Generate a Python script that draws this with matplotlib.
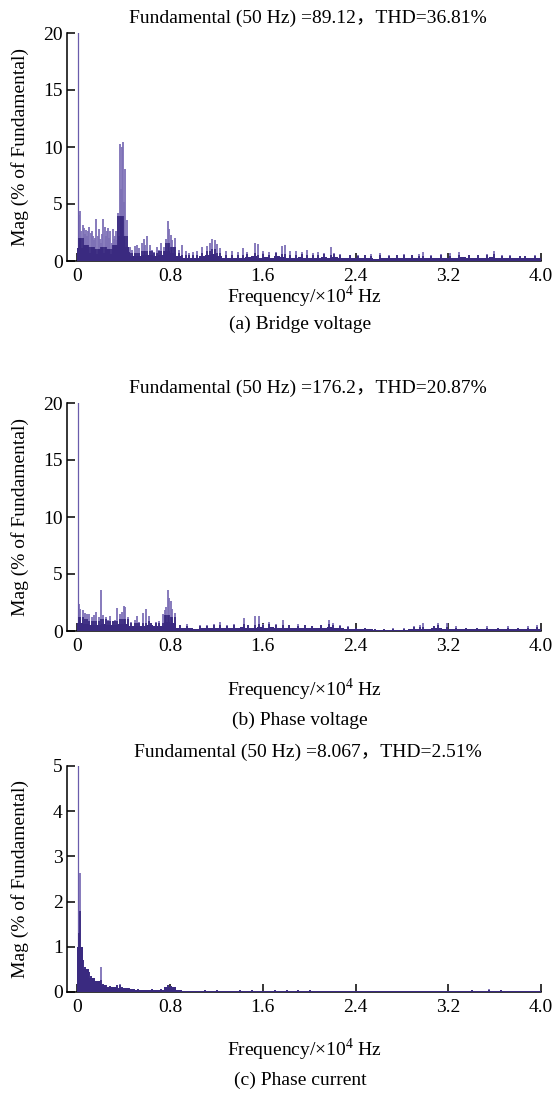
import numpy as np
import matplotlib.pyplot as plt

plt.rcParams['font.family'] = ['Liberation Serif', 'Noto Sans CJK SC', 'DejaVu Sans']
plt.rcParams['mathtext.fontset'] = 'custom'
plt.rcParams['mathtext.rm'] = 'Liberation Serif'

# harmonic spikes, frequency in x10^4 Hz, magnitude in % of fundamental
freq_a = [0.005, 0.015, 0.025, 0.035, 0.045, 0.055, 0.065, 0.075, 0.085, 0.095,
          0.105, 0.115, 0.125, 0.135, 0.145, 0.155, 0.165, 0.175, 0.185, 0.195,
          0.205, 0.215, 0.225, 0.235, 0.245, 0.255, 0.265, 0.275, 0.285, 0.295,
          0.305, 0.315, 0.325, 0.335, 0.345, 0.355, 0.365, 0.375, 0.385, 0.395,
          0.405, 0.415, 0.425, 0.435, 0.445, 0.455, 0.475, 0.495, 0.515, 0.535,
          0.555, 0.575, 0.585, 0.605, 0.625, 0.645, 0.665, 0.685, 0.705, 0.725,
          0.745, 0.765, 0.785, 0.795, 0.805, 0.815, 0.835, 0.845, 0.875, 0.905,
          0.935, 0.965, 0.995, 1.035, 1.075, 1.115, 1.145, 1.165, 1.185, 1.205,
          1.235, 1.285, 1.335, 1.385, 1.425, 1.465, 1.535, 1.555, 1.605, 1.655,
          1.715, 1.765, 1.795, 1.835, 1.885, 1.935, 1.985, 2.035, 2.075, 2.125,
          2.185, 2.215, 2.265, 2.355, 2.425, 2.485, 2.535, 2.615, 2.685, 2.755,
          2.815, 2.885, 2.945, 2.985, 3.055, 3.135, 3.215, 3.295, 3.375, 3.455,
          3.535, 3.595, 3.665, 3.735, 3.815, 3.865, 3.945]
mag_a = [100, 4.0, 4.4, 2.6, 3.2, 2.9, 2.4, 2.7, 2.2, 2.6,
         3.0, 2.5, 2.6, 2.2, 1.8, 2.0, 3.7, 2.2, 2.8, 1.9,
         1.6, 2.4, 3.7, 3.0, 2.2, 2.6, 2.9, 2.0, 2.6, 1.6,
         2.8, 1.9, 2.2, 2.6, 1.8, 4.2, 10.3, 6.3, 10.0, 10.4,
         5.2, 8.1, 3.6, 1.0, 0.8, 1.2, 1.0, 1.3, 1.4, 1.1,
         1.6, 1.9, 1.4, 2.2, 1.4, 1.0, 0.8, 1.2, 1.0, 1.6,
         1.2, 1.9, 3.5, 2.8, 2.3, 1.8, 1.2, 2.0, 1.0, 1.4,
         0.9, 0.7, 0.8, 0.9, 1.2, 1.3, 1.6, 1.9, 1.8, 1.5,
         1.1, 0.9, 0.9, 0.8, 1.1, 0.8, 1.6, 1.5, 0.9, 0.8,
         0.8, 1.3, 1.4, 0.9, 0.9, 0.8, 1.0, 0.7, 0.8, 0.7,
         1.2, 0.7, 0.6, 0.5, 0.5, 0.5, 0.6, 0.7, 0.5, 0.5,
         0.6, 0.5, 0.6, 0.8, 0.5, 0.6, 0.7, 0.8, 0.5, 0.5,
         0.6, 0.9, 0.5, 0.5, 0.4, 0.4, 0.5]

freq_b = [0.005, 0.015, 0.025, 0.045, 0.065, 0.085, 0.105, 0.125, 0.145, 0.165,
          0.185, 0.205, 0.225, 0.245, 0.265, 0.285, 0.305, 0.325, 0.345, 0.365,
          0.385, 0.405, 0.415, 0.435, 0.465, 0.495, 0.515, 0.535, 0.565, 0.595,
          0.615, 0.635, 0.675, 0.705, 0.735, 0.755, 0.765, 0.785, 0.795, 0.805,
          0.815, 0.845, 0.885, 0.945, 0.985, 1.055, 1.115, 1.175, 1.235, 1.295,
          1.355, 1.435, 1.475, 1.535, 1.565, 1.605, 1.655, 1.715, 1.775, 1.825,
          1.905, 1.965, 2.025, 2.105, 2.175, 2.205, 2.265, 2.335, 2.405, 2.485,
          2.565, 2.645, 2.725, 2.815, 2.905, 2.955, 2.985, 3.075, 3.115, 3.185,
          3.265, 3.355, 3.445, 3.535, 3.625, 3.715, 3.805, 3.885, 3.965]
mag_b = [100, 2.4, 1.9, 1.8, 1.6, 1.5, 1.5, 1.2, 1.4, 1.7,
         1.2, 3.6, 1.4, 1.2, 1.0, 1.3, 0.9, 1.0, 2.0, 1.5,
         1.7, 2.2, 2.1, 1.2, 0.8, 1.0, 1.3, 0.8, 1.6, 1.9,
         1.3, 0.7, 0.8, 0.9, 1.5, 1.8, 2.1, 3.6, 2.9, 2.6,
         1.9, 1.6, 0.5, 0.6, 0.3, 0.5, 0.5, 0.6, 0.8, 0.5,
         0.6, 1.1, 0.5, 1.3, 1.3, 0.6, 0.8, 0.6, 1.0, 0.5,
         0.6, 0.5, 0.4, 0.5, 1.0, 0.7, 0.5, 0.4, 0.3, 0.3,
         0.2, 0.2, 0.3, 0.3, 0.4, 0.5, 0.7, 0.4, 0.7, 0.7,
         0.4, 0.3, 0.3, 0.4, 0.3, 0.4, 0.3, 0.4, 0.5]

freq_c = [0.005, 0.015, 0.025, 0.035, 0.045, 0.055, 0.065, 0.075, 0.085, 0.095,
          0.105, 0.115, 0.125, 0.135, 0.145, 0.155, 0.165, 0.175, 0.185, 0.195,
          0.205, 0.225, 0.245, 0.265, 0.285, 0.305, 0.325, 0.345, 0.365, 0.385,
          0.405, 0.445, 0.485, 0.525, 0.565, 0.605, 0.645, 0.685, 0.725, 0.765,
          0.785, 0.805, 0.825, 0.865, 0.925, 1.005, 1.105, 1.205, 1.305, 1.405,
          1.505, 1.605, 1.705, 1.805, 1.905, 2.005, 2.205, 2.405, 2.605, 2.805,
          3.005, 3.205, 3.405, 3.555, 3.655, 3.805, 3.955]
mag_c = [100, 1.3, 2.63, 0.95, 0.7, 0.5, 0.55, 0.45, 0.5, 0.4,
         0.45, 0.35, 0.3, 0.3, 0.28, 0.25, 0.22, 0.2, 0.22, 0.2,
         0.55, 0.18, 0.15, 0.12, 0.13, 0.12, 0.1, 0.15, 0.17, 0.1,
         0.08, 0.08, 0.07, 0.06, 0.05, 0.05, 0.06, 0.05, 0.06, 0.12,
         0.15, 0.13, 0.1, 0.05, 0.03, 0.03, 0.04, 0.05, 0.03, 0.04,
         0.05, 0.03, 0.04, 0.04, 0.05, 0.04, 0.03, 0.03, 0.03, 0.03,
         0.03, 0.03, 0.04, 0.06, 0.04, 0.03, 0.03]

# dense low-level content, one value per 0.05 x10^4 Hz band
floor_a = [1.1, 0.8, 0.7, 0.6, 0.7, 0.6, 0.8, 2.2, 1.2, 0.4,
           0.4, 0.5, 0.5, 0.4, 0.5, 0.9, 0.7, 0.4, 0.3, 0.3,
           0.3, 0.4, 0.5, 0.6, 0.4, 0.3, 0.3, 0.3, 0.3, 0.35,
           0.4, 0.3, 0.35, 0.3, 0.4, 0.35, 0.3, 0.3, 0.35, 0.3,
           0.3, 0.3, 0.35, 0.3, 0.35, 0.3, 0.25, 0.3, 0.25, 0.3,
           0.25, 0.2, 0.3, 0.25, 0.25, 0.3, 0.3, 0.3, 0.25, 0.25,
           0.3, 0.25, 0.3, 0.3, 0.25, 0.3, 0.35, 0.3, 0.25, 0.3,
           0.3, 0.35, 0.3, 0.25, 0.25, 0.3, 0.25, 0.3, 0.25, 0.3]
floor_b = [0.7, 0.6, 0.5, 0.5, 0.6, 0.5, 0.5, 0.6, 0.6, 0.4,
           0.4, 0.4, 0.5, 0.4, 0.4, 0.8, 0.7, 0.3, 0.25, 0.25,
           0.2, 0.25, 0.25, 0.3, 0.3, 0.25, 0.3, 0.3, 0.35, 0.3,
           0.3, 0.35, 0.3, 0.35, 0.3, 0.3, 0.3, 0.25, 0.25, 0.3,
           0.25, 0.3, 0.3, 0.35, 0.3, 0.25, 0.2, 0.2, 0.15, 0.15,
           0.15, 0.1, 0.1, 0.1, 0.1, 0.12, 0.12, 0.15, 0.2, 0.2,
           0.2, 0.25, 0.3, 0.2, 0.2, 0.15, 0.15, 0.15, 0.15, 0.15,
           0.15, 0.15, 0.15, 0.15, 0.15, 0.15, 0.15, 0.15, 0.2, 0.2]
floor_c = [1.0, 0.5, 0.3, 0.25, 0.15, 0.12, 0.1, 0.08, 0.08, 0.06,
           0.05, 0.05, 0.04, 0.04, 0.04, 0.1, 0.12, 0.04, 0.02, 0.02,
           0.02, 0.02, 0.02, 0.02, 0.02, 0.02, 0.02, 0.02, 0.02, 0.02,
           0.02, 0.02, 0.02, 0.02, 0.02, 0.02, 0.02, 0.02, 0.02, 0.02,
           0.02, 0.02, 0.02, 0.02, 0.02, 0.02, 0.02, 0.02, 0.02, 0.02,
           0.02, 0.02, 0.02, 0.02, 0.02, 0.02, 0.02, 0.02, 0.02, 0.02,
           0.02, 0.02, 0.02, 0.02, 0.02, 0.02, 0.02, 0.02, 0.02, 0.02,
           0.02, 0.02, 0.02, 0.02, 0.02, 0.02, 0.02, 0.02, 0.02, 0.02]

titles = ["Fundamental (50 Hz) =89.12\uff0cTHD=36.81%",
          "Fundamental (50 Hz) =176.2\uff0cTHD=20.87%",
          "Fundamental (50 Hz) =8.067\uff0cTHD=2.51%"]
captions = ["(a) Bridge voltage", "(b) Phase voltage", "(c) Phase current"]
xticks = [0, 0.8, 1.6, 2.4, 3.2, 4.0]
xticklabels = ["0", "0.8", "1.6", "2.4", "3.2", "4.0"]

W, H = 554, 1095
fig = plt.figure(figsize=(W / 100, H / 100), dpi=100)

def fx(px):
    return px / W

def fy(py):
    return 1 - py / H

dark = '#3a2a80'
light = '#7d70b6'
fs = 14

# (top px, bottom px, ymax, title y, xlabel y, caption y)
panels = [
    (33, 261, 20, 18, 297, 324, freq_a, mag_a, floor_a, [0, 5, 10, 15, 20]),
    (403, 631, 20, 388, 690, 720, freq_b, mag_b, floor_b, [0, 5, 10, 15, 20]),
    (766, 992, 5, 752, 1050, 1080, freq_c, mag_c, floor_c, [0, 1, 2, 3, 4, 5]),
]

left, right = 67, 541
for i, (top, bot, ymax, ty, xly, cy, fr, mg, fl, yt) in enumerate(panels):
    ax = fig.add_axes([fx(left), fy(bot), fx(right - left), (bot - top) / H])
    fr = np.array(fr)
    mg = np.array(mg)
    band = np.arange(len(fl)) * 0.05
    ax.vlines(fr[1:], 0, mg[1:], color=light, linewidth=1.3, zorder=2)
    ax.vlines(fr[:1], 0, mg[:1], color='#6a5cac', linewidth=0.9, zorder=2)
    # lower part of each spike sits inside the dense dark band
    lvl = np.array(fl)[np.minimum((fr / 0.05).astype(int), len(fl) - 1)]
    ax.vlines(fr[1:], 0, np.minimum(mg, 1.8 * lvl)[1:], color=dark, linewidth=1.3, zorder=3)
    ax.bar(band, fl, width=0.05, align='edge', color=dark, linewidth=0, zorder=3)
    ax.set_xlim(-0.089, 4.0)
    ax.set_ylim(0, ymax)
    ax.set_xticks(xticks)
    ax.set_xticklabels(xticklabels)
    ax.set_yticks(yt)
    for s in ['top', 'right']:
        ax.spines[s].set_visible(False)
    for s in ['left', 'bottom']:
        ax.spines[s].set_linewidth(1.1)
    ax.tick_params(axis='both', direction='in', length=6, width=1.1, labelsize=fs)
    ax.tick_params(axis='x', pad=5)
    ax.tick_params(axis='y', pad=3)

    fig.text(fx(308), fy(ty), titles[i], ha='center', va='center', fontsize=fs)
    fig.text(fx(304), fy(xly), r"Frequency/$\times$10$^4$ Hz", ha='center', va='center', fontsize=fs)
    fig.text(fx(300), fy(cy), captions[i], ha='center', va='center', fontsize=fs)
    fig.text(fx(20), fy((top + bot) / 2), "Mag (% of Fundamental)", rotation=90,
             ha='center', va='center', fontsize=fs)

fig.savefig('out.png', dpi=100)
